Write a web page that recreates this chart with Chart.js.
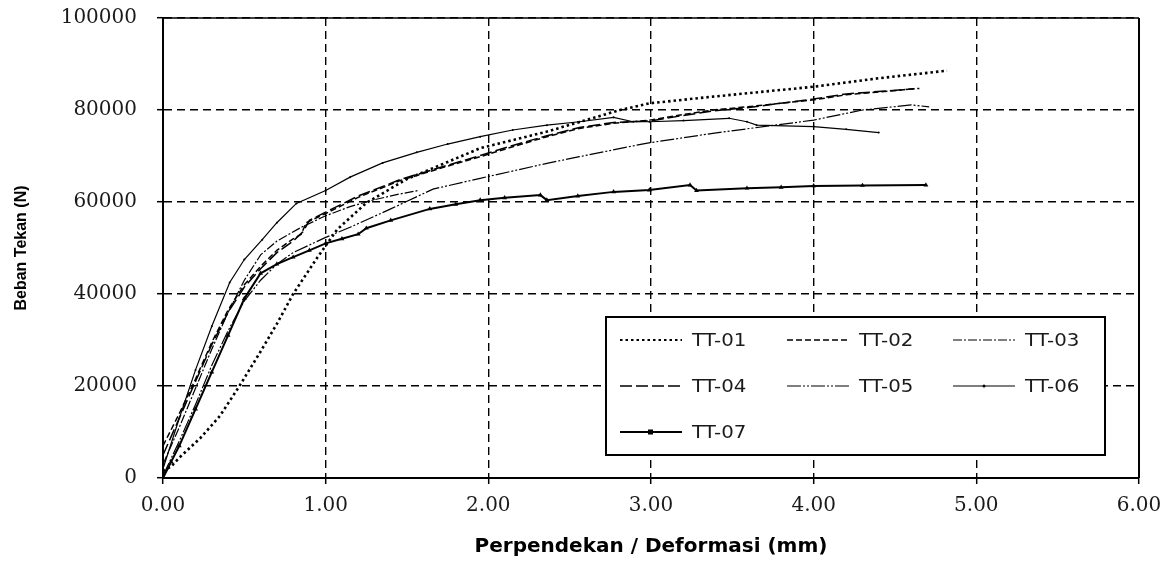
<!DOCTYPE html>
<html>
<head>
<meta charset="utf-8">
<script src="https://cdn.jsdelivr.net/npm/chart.js@4.4.1/dist/chart.umd.min.js"></script>
<style>
    body { margin: 0; background: #fff; }
    #wrap { width: 1173px; height: 565px; }
</style>
</head>
<body>
<div id="wrap"><canvas id="chart" width="1173" height="565"></canvas></div>
<script>
// deformasi (mm) / beban (N)
const seriesNames = ["TT-01", "TT-02", "TT-03", "TT-04", "TT-05", "TT-06", "TT-07"]

const tt01X = [0, 0.05, 0.1, 0.23, 0.35, 0.47, 0.6, 0.7, 0.8, 0.95, 1.07, 1.25, 1.5, 1.75, 1.95, 2.36, 2.81, 2.99, 3.38, 4.0, 4.4, 4.82]
const tt01Y = [1500, 2500, 4400, 8700, 13500, 20000, 27500, 33500, 40000, 48000, 54000, 59800, 65000, 68700, 71700, 75300, 80000, 81450, 82900, 85060, 86900, 88550]

const tt02X = [0, 0.1, 0.2, 0.3, 0.4, 0.5, 0.6, 0.7, 0.8, 0.85, 0.88, 1.0, 1.2, 1.46, 1.75, 1.95, 2.15, 2.36, 2.56, 2.77, 2.99, 3.18, 3.38, 3.59, 4.0, 4.2, 4.65]
const tt02Y = [7000, 14000, 21500, 29500, 36500, 42000, 46000, 49500, 52000, 53000, 55500, 57500, 61000, 64700, 67800, 69850, 72000, 74200, 76000, 77100, 77800, 78900, 80000, 80700, 82200, 83300, 84700]

const tt03X = [0, 0.1, 0.2, 0.3, 0.4, 0.5, 0.6, 0.7, 0.85, 1.0, 1.15, 1.3, 1.45, 1.57]
const tt03Y = [3000, 11000, 19500, 28000, 36000, 43000, 48500, 51500, 54500, 57000, 59000, 60500, 61700, 62500]

const tt04X = [0, 0.1, 0.2, 0.3, 0.4, 0.5, 0.6, 0.7, 0.8, 0.86, 0.9, 1.0, 1.2, 1.46, 1.75, 1.95, 2.15, 2.36, 2.56, 2.77, 2.99, 3.18, 3.38, 3.59, 4.0, 4.2, 4.62]
const tt04Y = [5000, 13000, 21000, 29000, 36000, 41500, 45500, 49000, 51500, 53500, 56000, 57800, 61300, 64900, 68000, 70100, 72300, 74400, 76200, 77300, 77600, 78700, 79800, 80500, 82400, 83500, 84600]

const tt05X = [0, 0.1, 0.2, 0.3, 0.4, 0.5, 0.6, 0.7, 0.8, 1.0, 1.15, 1.4, 1.66, 1.95, 2.36, 2.56, 2.97, 3.38, 3.69, 4.0, 4.3, 4.6, 4.71]
const tt05Y = [500, 8000, 16000, 24500, 32000, 38500, 43000, 46500, 49000, 52300, 54500, 58500, 62800, 65150, 68400, 69850, 72760, 74930, 76370, 77800, 80000, 81100, 80700]

const tt06X = [0, 0.1, 0.2, 0.3, 0.41, 0.5, 0.61, 0.7, 0.82, 1.0, 1.15, 1.35, 1.56, 1.75, 1.95, 2.15, 2.36, 2.56, 2.77, 2.89, 2.99, 3.2, 3.48, 3.59, 3.65, 4.0, 4.2, 4.4]
const tt06Y = [2000, 13000, 23500, 33000, 42500, 47500, 51800, 55500, 59700, 62500, 65400, 68500, 70800, 72600, 74200, 75650, 76700, 77450, 78400, 77450, 77450, 77700, 78200, 77450, 76700, 76400, 75800, 75100]

const tt07X = [0, 0.05, 0.1, 0.2, 0.3, 0.4, 0.5, 0.6, 0.7, 0.8, 0.9, 1.0, 1.1, 1.2, 1.25, 1.4, 1.64, 1.8, 1.95, 2.1, 2.32, 2.36, 2.55, 2.77, 2.99, 3.24, 3.28, 3.59, 3.8, 4.0, 4.3, 4.69]
const tt07Y = [0, 3500, 7000, 15000, 23000, 31000, 39000, 44500, 46500, 48000, 49500, 51000, 52000, 53000, 54300, 56000, 58500, 59500, 60400, 60900, 61500, 60400, 61300, 62200, 62600, 63700, 62500, 63000, 63200, 63500, 63600, 63700]

const xTicks = [0, 1, 2, 3, 4, 5, 6]
const yTicks = [0, 20000, 40000, 60000, 80000, 100000]

function pts(xs, ys) {
    return xs.map((x, i) => ({ x: x, y: ys[i] }))
}

const styles = [
    { dash: [2.5, 3], width: 2.6, point: 0 },
    { dash: [6, 3], width: 1.5, point: 0 },
    { dash: [9, 2, 2, 2], width: 1.2, point: 0 },
    { dash: [12, 4], width: 1.5, point: 0 },
    { dash: [14, 2, 2, 2, 2, 2], width: 1.2, point: 0 },
    { dash: [], width: 1.2, point: 1, style: 'circle' },
    { dash: [], width: 2, point: 2.8, style: 'triangle' }
]

const allData = [
    pts(tt01X, tt01Y), pts(tt02X, tt02Y), pts(tt03X, tt03Y), pts(tt04X, tt04Y),
    pts(tt05X, tt05Y), pts(tt06X, tt06Y), pts(tt07X, tt07Y)
]

const datasets = seriesNames.map((name, i) => ({
    label: name,
    data: allData[i],
    showLine: true,
    borderColor: '#000',
    backgroundColor: '#000',
    borderWidth: styles[i].width,
    borderDash: styles[i].dash,
    pointRadius: styles[i].point,
    pointStyle: styles[i].style || 'circle',
    pointBorderWidth: 0,
    tension: 0
}))

// bingkai atas dan kanan
const framePlugin = {
    id: 'frame',
    afterDraw(chart) {
        const { ctx, chartArea: a } = chart
        ctx.save()
        ctx.strokeStyle = '#000'
        ctx.setLineDash([])
        ctx.lineWidth = 1.5
        ctx.beginPath()
        ctx.moveTo(a.left, a.top)
        ctx.lineTo(a.right, a.top)
        ctx.stroke()
        ctx.lineWidth = 2
        ctx.beginPath()
        ctx.moveTo(a.right, a.top)
        ctx.lineTo(a.right, a.bottom)
        ctx.stroke()
        ctx.restore()
    }
}

// legenda di dalam area grafik
const legendPlugin = {
    id: 'boxLegend',
    afterDraw(chart) {
        const { ctx, chartArea: a } = chart
        const bx = a.left + 443, by = a.top + 299, bw = 499, bh = 138
        ctx.save()
        ctx.fillStyle = '#fff'
        ctx.fillRect(bx, by, bw, bh)
        ctx.strokeStyle = '#000'
        ctx.lineWidth = 2
        ctx.setLineDash([])
        ctx.strokeRect(bx, by, bw, bh)

        const colX = [14, 181, 347]
        const rowY = [23, 69, 115]
        chart.data.datasets.forEach((ds, i) => {
            const x0 = bx + colX[i % 3]
            const y0 = by + rowY[Math.floor(i / 3)]
            ctx.strokeStyle = '#000'
            ctx.lineWidth = Math.min(ds.borderWidth, 2)
            ctx.setLineDash(ds.borderDash)
            ctx.beginPath()
            ctx.moveTo(x0, y0)
            ctx.lineTo(x0 + 62, y0)
            ctx.stroke()
            ctx.setLineDash([])
            if (ds.pointRadius > 0) {
                ctx.fillStyle = '#000'
                if (ds.pointStyle === 'triangle') {
                    ctx.fillRect(x0 + 28, y0 - 2.5, 5, 5)
                } else {
                    ctx.beginPath()
                    ctx.arc(x0 + 31, y0, 1.5, 0, Math.PI * 2)
                    ctx.fill()
                }
            }
            ctx.save()
            ctx.translate(x0 + 72, y0)
            ctx.scale(1.1, 1)
            ctx.fillStyle = '#1a1a1a'
            ctx.font = '18px "DejaVu Sans"'
            ctx.textBaseline = 'middle'
            ctx.fillText(ds.label, 0, 1)
            ctx.restore()
        })
        ctx.restore()
    }
}

const tickFont = { family: 'DejaVu Serif', size: 20 }

new Chart(document.getElementById('chart'), {
    type: 'scatter',
    data: { datasets: datasets },
    options: {
        responsive: false,
        animation: false,
        layout: { padding: { left: 4, right: 34, top: 18, bottom: 2 } },
        plugins: {
            legend: { display: false },
            tooltip: { enabled: false }
        },
        scales: {
            x: {
                type: 'linear',
                min: 0,
                max: 6,
                afterBuildTicks: (s) => { s.ticks = xTicks.map(v => ({ value: v })) },
                afterFit: (s) => {
                    s.height = 85
                    s.paddingLeft = 0
                    s.paddingRight = 0
                },
                ticks: {
                    color: '#1a1a1a',
                    font: tickFont,
                    padding: 10,
                    maxRotation: 0,
                    callback: (v) => Number(v).toFixed(2)
                },
                grid: {
                    color: '#000',
                    lineWidth: 1.4,
                    tickLength: 6,
                    tickColor: '#000',
                    tickWidth: 1.5
                },
                border: { color: '#000', width: 2, dash: [8, 5] },
                title: {
                    display: true,
                    text: 'Perpendekan / Deformasi (mm)',
                    color: '#000',
                    font: { family: 'DejaVu Sans', size: 20, weight: 'bold' },
                    padding: { top: 4, bottom: 4 }
                }
            },
            y: {
                type: 'linear',
                min: 0,
                max: 100000,
                afterBuildTicks: (s) => { s.ticks = yTicks.map(v => ({ value: v })) },
                afterFit: (s) => {
                    s.width = 159
                    s.paddingTop = 0
                    s.paddingBottom = 0
                },
                ticks: {
                    color: '#1a1a1a',
                    font: tickFont,
                    padding: 20,
                    callback: (v) => String(v)
                },
                grid: {
                    color: '#000',
                    lineWidth: 1.4,
                    tickLength: 6,
                    tickColor: '#000',
                    tickWidth: 1.5
                },
                border: { color: '#000', width: 2, dash: [8, 5] },
                title: {
                    display: true,
                    text: 'Beban Tekan (N)',
                    color: '#000',
                    font: { family: 'Liberation Sans', size: 16, weight: 'bold' },
                    padding: { top: 8, bottom: 4 }
                }
            }
        }
    },
    plugins: [framePlugin, legendPlugin]
})
</script>
</body>
</html>
